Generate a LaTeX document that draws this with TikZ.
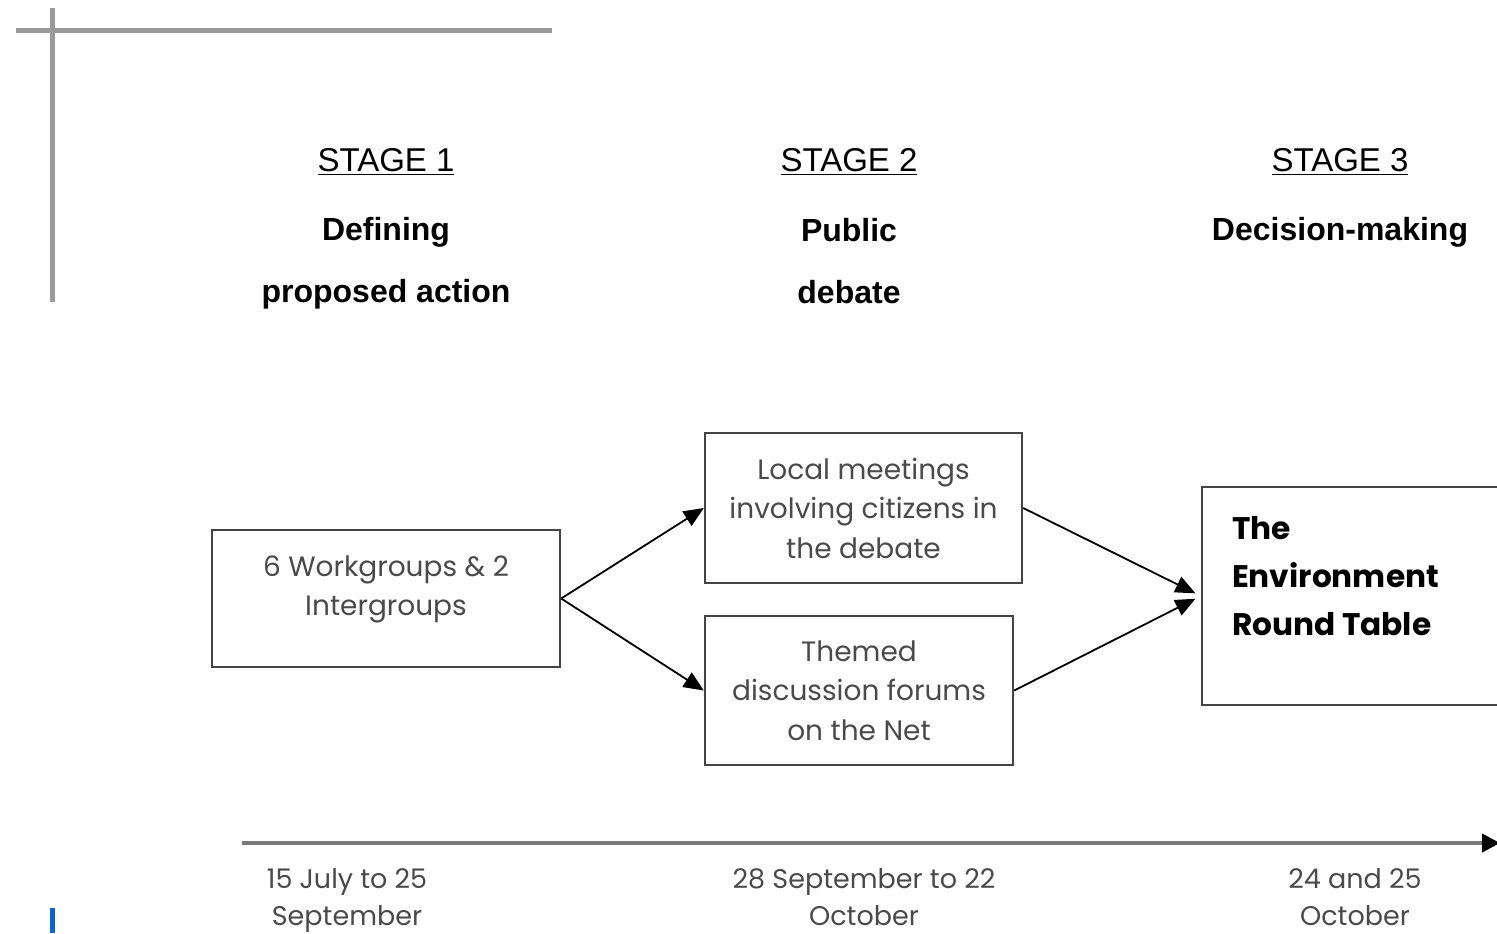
\documentclass[tikz,border=0pt]{standalone}
\usepackage{fontspec}
\setmainfont{Liberation Sans}
\newfontfamily\gothicfont{Poppins}
\usetikzlibrary{arrows.meta,positioning}
\definecolor{framegray}{HTML}{9A9A9A}
\definecolor{boxline}{HTML}{444444}
\definecolor{boxtextcol}{HTML}{4A4A4A}
\definecolor{axisgray}{HTML}{7A7A7A}
\definecolor{markblue}{HTML}{0A66CC}

\begin{document}
\begin{tikzpicture}[x=0.5pt,y=-0.5pt,
    stagehead/.style={font=\fontsize{16.5}{20}\selectfont},
    stagename/.style={font=\fontsize{16}{20}\selectfont\bfseries},
    box/.style={draw=boxline, line width=1.2pt, rectangle, inner sep=0pt},
    boxtext/.style={font=\gothicfont\fontsize{14}{19.75}\selectfont, text=boxtextcol, align=center},
    envtext/.style={font=\gothicfont\bfseries\fontsize{15.6}{24}\selectfont, text=black, align=left},
    datetext/.style={font=\gothicfont\fontsize{13.5}{18.5}\selectfont, text=boxtextcol, align=center},
    flow/.style={line width=0.9pt, -{Triangle[length=10pt,width=8.5pt]}},
    timeline/.style={draw=axisgray, line width=2pt, -{Triangle[length=9pt,width=9pt,color=black]}},
]
    \useasboundingbox (0,0) rectangle (1497,933);

    % corner marks
    \draw [framegray, line width=2.5pt] (16,30) -- (552,30);
    \draw [framegray, line width=2.5pt] (52,8) -- (52,302);
    \fill [markblue] (50,908) rectangle (55,933);

    % stage headings
    \node [stagehead] (stage1) at (386,162) {\underline{STAGE 1}};
    \node [stagename] (define) at (386,232) {Defining};
    \node [stagename] (propose) at (386,294) {proposed action};

    \node [stagehead] (stage2) at (849,162) {\underline{STAGE 2}};
    \node [stagename] (public) at (849,230) {Public};
    \node [stagename] (debate) at (849,292) {debate};

    \node [stagehead] (stage3) at (1340,162) {\underline{STAGE 3}};
    \node [stagename] (decide) at (1340,232) {Decision-making};

    % boxes
    \node [box, minimum width=174pt, minimum height=68.5pt] (groups) at (386,598.5) {};
    \node [boxtext] (groupstxt) at (386,589.5) {6 Workgroups \& 2\\Intergroups};

    \node [box, boxtext, minimum width=158.5pt, minimum height=75pt] (local) at (863.5,508)
        {Local meetings\\involving citizens in\\the debate};
    \node [box, boxtext, minimum width=154pt, minimum height=74.5pt] (themed) at (859,690.5)
        {Themed\\discussion forums\\on the Net};

    \node [box, minimum width=179pt, minimum height=109pt] (env) at (1381,596) {};
    \node [envtext, anchor=west] (envtxt) at (1225,576) {The\\Environment\\Round Table};

    % arrows
    \draw [flow] (groups.east) -- (local.west);
    \draw [flow] (groups.east) -- (themed.west);
    \draw [flow, shorten >=3pt] (local.east) -- (env.west);
    \draw [flow, shorten >=3pt] (themed.east) -- (env.west);

    % time axis
    \coordinate (tstart) at (242,843);
    \coordinate (tend) at (1500,843);
    \draw [timeline] (tstart) -- (tend);

    \node [datetext] (date1) at (347,900) {15 July to 25\\September};
    \node [datetext] (date2) at (864,897.5) {28 September to 22\\October};
    \node [datetext] (date3) at (1355,897.5) {24 and 25\\October};

\end{tikzpicture}
\end{document}
